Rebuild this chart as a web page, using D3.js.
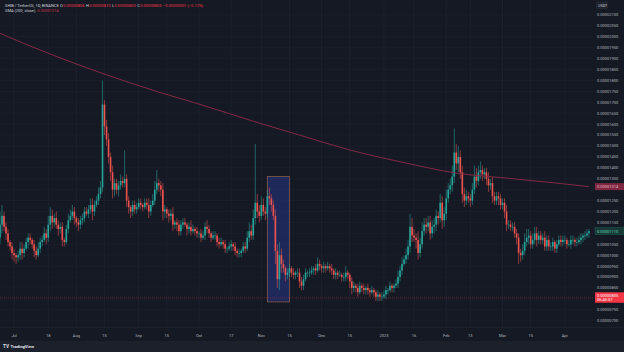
<!DOCTYPE html>
<html>
<head>
<meta charset="utf-8">
<script src="https://cdn.jsdelivr.net/npm/d3@7"></script>
<style>
  html, body { margin: 0; padding: 0; background: #151924; }
  svg { display: block; font-family: Roboto, "Noto Sans", sans-serif; }
</style>
</head>
<body>
<svg id="chart" width="624" height="352"></svg>
<script>
// SHIB/USDT daily candles. Prices are in units of 1e-8 USDT.
// Binance trades 24/7, so each open is the previous close.
const firstDay = '2022-06-23';
const firstOpen = 1030;

const closes = [
  1080, 1140, 1180, 1130, 1100, 1060, 1040, 1010,
  1000, 990, 1000, 1030, 1010, 1030, 1060,
  1080, 1070, 1050, 1020, 1000, 1030, 1060,
  1070, 1100, 1080, 1140, 1180, 1150, 1170,
  1140, 1120, 1130, 1070, 1060, 1120, 1160,
  1180, 1200, 1170, 1150, 1140, 1160, 1170,
  1200, 1190, 1210, 1230, 1200, 1230, 1250,
  1280, 1310, 1690, 1590, 1530, 1450, 1380,
  1300, 1330, 1300, 1320, 1340, 1330, 1350,
  1250, 1220, 1200, 1230, 1210, 1220, 1240,
  1230, 1220, 1240, 1230, 1200, 1230, 1250,
  1300, 1330, 1320, 1300, 1200, 1210, 1190,
  1180, 1190, 1140, 1150, 1140, 1110, 1140,
  1150, 1140, 1120, 1130, 1110, 1120, 1110,
  1100, 1100, 1080, 1090, 1130, 1120, 1100,
  1080, 1090, 1090, 1060, 1050, 1060, 1050,
  1030, 1030, 1040, 1050, 1040, 1020, 1010,
  1010, 1020, 1040, 1030, 1080, 1110, 1090,
  1170, 1240, 1200, 1180, 1230, 1200, 1190,
  1270, 1260, 1230, 1180, 1020, 890, 1000,
  960, 940, 910, 920, 940, 920, 910,
  920, 920, 880, 860, 890, 920, 920,
  920, 930, 940, 930, 960, 950, 940,
  950, 940, 950, 940, 930, 910, 920,
  910, 910, 900, 900, 920, 910, 880,
  850, 860, 850, 830, 860, 850, 840,
  850, 840, 830, 840, 830, 810, 820,
  810, 810, 820, 840, 840, 860, 850,
  860, 870, 900, 930, 960, 980, 1000,
  1040, 1130, 1090, 1080, 1070, 1010, 1050,
  1110, 1140, 1130, 1150, 1100, 1130, 1140,
  1180, 1170, 1240, 1160, 1190, 1260, 1300,
  1320, 1360, 1470, 1420, 1450, 1380, 1280,
  1250, 1270, 1260, 1250, 1300, 1360, 1340,
  1380, 1390, 1370, 1380, 1350, 1320, 1330,
  1270, 1250, 1270, 1260, 1230, 1240, 1200,
  1140, 1140, 1130, 1130, 1100, 1080, 1010,
  1000, 1020, 1060, 1080, 1090, 1050, 1070,
  1100, 1070, 1090, 1070, 1080, 1040, 1070,
  1040, 1040, 1060, 1030, 1050, 1070, 1060,
  1070, 1070, 1050, 1050, 1070, 1070, 1060,
  1060, 1070, 1080, 1090, 1090, 1100, 1110
];

// how far each high sits above the body, and each low below it
const wickUp = [
  40, 60, 50, 20, 20, 20, 10, 20,
  20, 10, 20, 30, 30, 20, 20,
  20, 20, 10, 20, 20, 30, 20,
  20, 30, 20, 40, 40, 30, 20,
  30, 20, 20, 20, 10, 20, 30,
  30, 30, 20, 10, 20, 20, 20,
  20, 20, 20, 30, 30, 20, 20,
  30, 30, 110, 20, 30, 30, 20,
  30, 20, 20, 20, 30, 20, 130,
  20, 20, 10, 20, 20, 20, 20,
  20, 10, 20, 20, 30, 20, 30,
  40, 60, 20, 20, 30, 20, 10,
  20, 20, 30, 10, 20, 20, 20,
  20, 20, 10, 20, 30, 20, 10,
  20, 10, 20, 20, 20, 30, 20,
  10, 20, 20, 10, 20, 20, 10,
  20, 10, 20, 20, 10, 20, 10,
  20, 10, 20, 20, 30, 40, 30,
  40, 270, 40, 30, 40, 30, 20,
  30, 40, 20, 20, 30, 30, 60,
  30, 20, 10, 20, 20, 10, 20,
  10, 20, 20, 20, 20, 20, 10,
  20, 20, 10, 20, 30, 20, 10,
  20, 10, 20, 10, 20, 10, 20,
  10, 20, 10, 20, 30, 10, 10,
  20, 20, 10, 20, 20, 10, 20,
  10, 20, 10, 20, 10, 10, 20,
  10, 20, 20, 20, 10, 20, 10,
  10, 20, 30, 20, 30, 20, 30,
  30, 60, 40, 30, 20, 40, 30,
  40, 30, 30, 30, 30, 30, 30,
  30, 20, 40, 30, 30, 40, 30,
  30, 50, 110, 40, 50, 30, 30,
  30, 30, 20, 20, 30, 50, 40,
  30, 40, 20, 20, 20, 30, 20,
  30, 20, 20, 20, 20, 20, 20,
  30, 20, 20, 20, 20, 20, 20,
  20, 30, 40, 40, 30, 20, 30,
  30, 30, 20, 20, 20, 30, 20,
  20, 20, 20, 10, 20, 20, 20,
  20, 20, 10, 20, 20, 20, 10,
  20, 20, 20, 10, 20, 20, 10
];

const wickDown = [
  30, 30, 40, 20, 30, 20, 20, 30,
  30, 30, 20, 20, 30, 20, 10,
  30, 20, 20, 30, 20, 10, 20,
  20, 10, 30, 20, 30, 30, 20,
  20, 30, 20, 30, 20, 10, 20,
  10, 20, 30, 20, 30, 20, 20,
  20, 10, 20, 20, 40, 20, 10,
  20, 20, 20, 40, 30, 30, 40,
  40, 30, 20, 30, 20, 20, 20,
  30, 30, 30, 20, 20, 20, 10,
  20, 20, 10, 20, 30, 20, 10,
  20, 20, 30, 30, 40, 30, 20,
  30, 20, 30, 20, 30, 20, 20,
  20, 10, 30, 20, 20, 10, 20,
  20, 20, 20, 10, 20, 20, 20,
  20, 10, 20, 20, 20, 10, 20,
  20, 20, 10, 20, 20, 20, 20,
  20, 20, 10, 20, 10, 20, 20,
  20, 30, 30, 30, 20, 20, 30,
  20, 30, 30, 20, 60, 40, 50,
  40, 20, 30, 20, 20, 20, 20,
  20, 20, 30, 20, 20, 10, 20,
  20, 10, 20, 20, 10, 20, 20,
  20, 20, 10, 20, 20, 20, 20,
  20, 10, 20, 20, 20, 20, 30,
  30, 20, 20, 20, 10, 20, 20,
  20, 20, 20, 10, 20, 20, 20,
  20, 20, 10, 20, 20, 10, 20,
  20, 10, 20, 20, 20, 10, 20,
  20, 30, 30, 20, 40, 30, 20,
  20, 20, 30, 20, 30, 20, 30,
  30, 30, 20, 40, 30, 30, 20,
  20, 30, 30, 30, 40, 30, 40,
  30, 20, 20, 30, 20, 20, 30,
  20, 30, 30, 20, 30, 30, 20,
  30, 20, 20, 30, 20, 20, 30,
  30, 20, 20, 20, 20, 30, 50,
  30, 20, 20, 20, 30, 20, 20,
  20, 30, 20, 20, 20, 20, 20,
  20, 20, 20, 20, 20, 10, 20,
  20, 20, 20, 10, 20, 20, 20,
  20, 10, 20, 20, 20, 10, 20
];

// SMA(200)
const smaDates = ['2022-06-23', '2022-07-19', '2022-08-12', '2022-09-11', '2022-10-01', '2022-10-31',
  '2022-11-20', '2022-12-15', '2023-01-12', '2023-02-06', '2023-03-03', '2023-03-27', '2023-04-13'];
const smaValues = [2020, 1921, 1839, 1747, 1692, 1605, 1550, 1482, 1422, 1376, 1353, 1331, 1314];

const priceTicks = [2100, 2050, 2000, 1950, 1900, 1850, 1800, 1750, 1700, 1650, 1600, 1550, 1500, 1450,
  1400, 1350, 1300, 1250, 1200, 1150, 1100, 1050, 1000, 950, 900, 850, 800, 750, 700];
const timeTicks = ['2022-07-01', '2022-07-18', '2022-08-01', '2022-08-15', '2022-09-01', '2022-09-15',
  '2022-10-01', '2022-10-17', '2022-11-01', '2022-11-15', '2022-12-01', '2022-12-15', '2023-01-01',
  '2023-01-16', '2023-02-01', '2023-02-13', '2023-03-01', '2023-03-15', '2023-04-01'];
const timeLabels = ['Jul', '18', 'Aug', '15', 'Sep', '15', 'Oct', '17', 'Nov', '15', 'Dec', '15', '2023',
  '16', 'Feb', '13', 'Mar', '15', 'Apr'];

// drawn box around the November crash
const boxFrom = '2022-11-04', boxTo = '2022-11-15', boxTop = 1360, boxBottom = 786;
const lastPrice = 805, lastClose = 1110, smaLast = 1314;
const header = { symbol: 'SHIB / TetherUS, 1D, BINANCE', o: 806, h: 810, l: 803, c: 805,
  change: '−0.00000001 (−0.12%)' };

const green = '#26a69a', red = '#ef5350';
const fmt = v => (v / 1e8).toFixed(8);
const parse = d3.timeParse('%Y-%m-%d');

const svg = d3.select('#chart');
const plotW = 594, plotH = 327;

const x = d3.scaleTime().domain([parse('2022-06-24'), parse('2023-04-17')]).range([0, 597]);
const y = d3.scaleLinear().domain([700, 2100]).range([320.7, 15]);

svg.append('rect').attr('width', 624).attr('height', 352).attr('fill', '#151924');

svg.append('clipPath').attr('id', 'plot')
    .append('rect').attr('width', plotW).attr('height', plotH);

// grid
const grid = svg.append('g').attr('clip-path', 'url(#plot)');
grid.selectAll('.hg').data(priceTicks).enter().append('line')
    .attr('x1', 0).attr('x2', plotW)
    .attr('y1', d => y(d)).attr('y2', d => y(d))
    .attr('stroke', '#1d212c').attr('stroke-width', 0.6);
grid.selectAll('.vg').data(timeTicks).enter().append('line')
    .attr('x1', d => x(parse(d))).attr('x2', d => x(parse(d)))
    .attr('y1', 0).attr('y2', plotH)
    .attr('stroke', '#1f2330').attr('stroke-width', 0.7);

// crash box
grid.append('rect')
    .attr('x', x(parse(boxFrom))).attr('width', x(parse(boxTo)) - x(parse(boxFrom)))
    .attr('y', y(boxTop)).attr('height', y(boxBottom) - y(boxTop))
    .attr('fill', '#2b3d9c').attr('fill-opacity', 0.45)
    .attr('stroke', '#a06a50').attr('stroke-width', 0.8).attr('stroke-opacity', 0.8);

// last price line
grid.append('line')
    .attr('x1', 0).attr('x2', plotW).attr('y1', y(lastPrice)).attr('y2', y(lastPrice))
    .attr('stroke', '#f23645').attr('stroke-opacity', 0.55).attr('stroke-width', 0.6)
    .attr('stroke-dasharray', '1,1');

// candles
const start = parse(firstDay);
const candles = closes.map((c, i) => {
    const o = i === 0 ? firstOpen : closes[i - 1];
    return { date: d3.timeDay.offset(start, i), o: o, c: c,
             h: Math.max(o, c) + wickUp[i], l: Math.min(o, c) - wickDown[i] };
});

const cg = svg.append('g').attr('clip-path', 'url(#plot)');
cg.selectAll('.wick').data(candles).enter().append('line')
    .attr('x1', d => x(d.date)).attr('x2', d => x(d.date))
    .attr('y1', d => y(d.h)).attr('y2', d => y(d.l))
    .attr('stroke', d => d.c >= d.o ? green : red).attr('stroke-width', 0.55);
cg.selectAll('.body').data(candles).enter().append('rect')
    .attr('x', d => x(d.date) - 0.8).attr('width', 1.6)
    .attr('y', d => y(Math.max(d.o, d.c)))
    .attr('height', d => Math.max(0.6, Math.abs(y(d.o) - y(d.c))))
    .attr('fill', d => d.c >= d.o ? green : red);

// SMA 200
const sma = smaDates.map((d, i) => ({ date: parse(d), v: smaValues[i] }));
cg.append('path').datum(sma)
    .attr('d', d3.line().x(d => x(d.date)).y(d => y(d.v)).curve(d3.curveMonotoneX))
    .attr('fill', 'none').attr('stroke', '#8e2a48').attr('stroke-width', 0.9);

// price axis
const specials = [smaLast, lastClose, lastPrice];
const ax = svg.append('g');
ax.selectAll('.pl').data(priceTicks.filter(t => specials.every(s => Math.abs(y(s) - y(t)) > 6)))
    .enter().append('text')
    .attr('x', 597).attr('y', d => y(d) + 1.4)
    .attr('fill', '#b2b5be').attr('font-size', 4)
    .text(d => fmt(d));

ax.append('rect').attr('x', 596.5).attr('y', 2).attr('width', 11).attr('height', 6.5).attr('rx', 1)
    .attr('fill', '#1e222d').attr('stroke', '#363a45').attr('stroke-width', 0.4);
ax.append('text').attr('x', 598.3).attr('y', 6.6).attr('fill', '#d1d4dc').attr('font-size', 3.6)
    .text('USDT');

// SMA value label
ax.append('rect').attr('x', 595).attr('y', y(smaLast) - 3.5).attr('width', 29).attr('height', 7)
    .attr('fill', '#7d2840');
ax.append('text').attr('x', 597).attr('y', y(smaLast) + 1.4).attr('fill', '#e9b3c0')
    .attr('font-size', 4).text(fmt(smaLast));

// last visible close label
ax.append('rect').attr('x', 595).attr('y', y(lastClose) - 3.5).attr('width', 29).attr('height', 7)
    .attr('fill', '#173a36').attr('stroke', '#1f6b5f').attr('stroke-width', 0.4);
ax.append('text').attr('x', 597).attr('y', y(lastClose) + 1.4).attr('fill', '#5fd3b8')
    .attr('font-size', 4).text(fmt(lastClose));

// current price label with countdown
ax.append('rect').attr('x', 595).attr('y', y(lastPrice) - 5.5).attr('width', 29).attr('height', 10.5)
    .attr('fill', '#f23645');
ax.append('text').attr('x', 597).attr('y', y(lastPrice) - 0.6).attr('fill', '#ffffff')
    .attr('font-size', 4).text(fmt(lastPrice));
ax.append('text').attr('x', 597).attr('y', y(lastPrice) + 3.6).attr('fill', '#ffffff')
    .attr('font-size', 4).text('06:45:57');

// time axis
svg.append('line').attr('x1', 0).attr('x2', 624).attr('y1', plotH + 0.5).attr('y2', plotH + 0.5)
    .attr('stroke', '#232733').attr('stroke-width', 0.6);
svg.selectAll('.tl').data(timeTicks).enter().append('text')
    .attr('x', d => x(parse(d))).attr('y', 336.5)
    .attr('text-anchor', 'middle').attr('fill', '#b2b5be').attr('font-size', 4)
    .text((d, i) => timeLabels[i]);

// footer strip with logo
svg.append('rect').attr('y', 341).attr('width', 624).attr('height', 11).attr('fill', '#1c202b');
svg.append('text').attr('x', 3).attr('y', 348).attr('fill', '#e0e3eb').attr('font-size', 4.6)
    .attr('font-weight', 'bold').text('TV');
svg.append('text').attr('x', 10.5).attr('y', 348).attr('fill', '#e0e3eb').attr('font-size', 4.2)
    .attr('font-weight', 'bold').text('TradingView');

// legend text
const lg = svg.append('g').attr('font-size', 4);
const t1 = lg.append('text').attr('x', 5).attr('y', 6.8).attr('fill', '#d1d4dc');
t1.append('tspan').text(header.symbol);
[['O', header.o], ['H', header.h], ['L', header.l], ['C', header.c]].forEach(p => {
    t1.append('tspan').attr('dx', 1.4).attr('fill', '#d1d4dc').text(p[0]);
    t1.append('tspan').attr('dx', 0.4).attr('fill', '#f23645').text(fmt(p[1]));
});
t1.append('tspan').attr('dx', 1.4).attr('fill', '#f23645').text(header.change);

const t2 = lg.append('text').attr('x', 5).attr('y', 12.4).attr('fill', '#d1d4dc');
t2.append('tspan').text('SMA (200, close)');
t2.append('tspan').attr('dx', 2).attr('fill', '#c2334f').text(fmt(smaLast));
</script>
</body>
</html>
